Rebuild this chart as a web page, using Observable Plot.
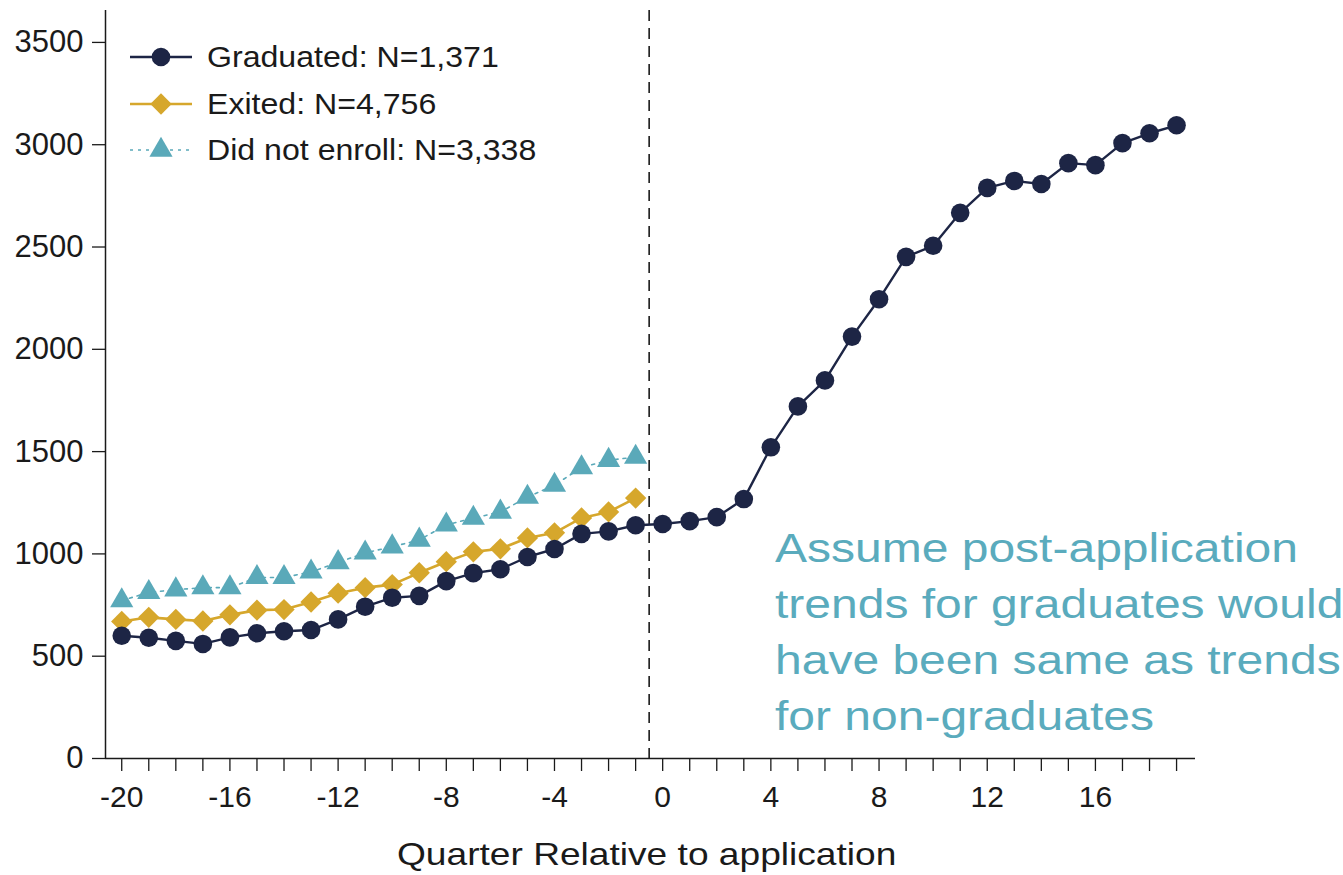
<!DOCTYPE html>
<html>
<head>
<meta charset="utf-8">
<script src="https://cdn.jsdelivr.net/npm/d3@7"></script>
<script src="https://cdn.jsdelivr.net/npm/@observablehq/plot@0.6"></script>
<style>
  html, body { margin: 0; padding: 0; background: #fff; }
  #wrap { position: relative; width: 1343px; height: 875px; font-family: "Liberation Sans", Arial, Helvetica, sans-serif; }
  #legend { position: absolute; left: 128px; top: 34px; font-size: 30px; color: #1a1a1a; }
  #legend .row { display: flex; align-items: center; height: 46.5px; }
  #legend .row span { display: inline-block; transform: scaleX(1.07); transform-origin: left center; }
  #legend svg { width: 66px; height: 30px; margin-right: 13px; overflow: visible; }
  #xtitle { position: absolute; left: 397px; top: 836px; font-size: 32px; color: #1a1a1a; white-space: nowrap; transform: scaleX(1.16); transform-origin: left top; }
  #note { position: absolute; left: 775px; top: 520px; font-size: 40px; line-height: 56px; color: #5aabbd; white-space: nowrap; transform: scaleX(1.2); transform-origin: left top; }
</style>
</head>
<body>
<div id="wrap"></div>
<script>
// ---- data ----
const quarters = [-20,-19,-18,-17,-16,-15,-14,-13,-12,-11,-10,-9,-8,-7,-6,-5,-4,-3,-2,-1,
                  0,1,2,3,4,5,6,7,8,9,10,11,12,13,14,15,16,17,18,19];
const preQuarters = [-20,-19,-18,-17,-16,-15,-14,-13,-12,-11,-10,-9,-8,-7,-6,-5,-4,-3,-2,-1];
const graduated = [600,590,575,560,592,612,622,628,680,742,786,795,867,906,925,985,1024,1098,1110,1140,
                   1146,1160,1180,1268,1521,1721,1848,2062,2245,2452,2506,2667,2789,2823,2808,2910,2900,3008,3056,3095];
const exited = [670,690,680,672,702,725,728,765,808,835,850,908,962,1010,1025,1078,1103,1176,1205,1273];
const didNotEnroll = [772,812,825,835,835,885,885,912,958,1005,1035,1068,1142,1175,1205,1278,1336,1422,1458,1473];
const seriesLabels = ["Graduated: N=1,371", "Exited: N=4,756", "Did not enroll: N=3,338"];
const yTicks = [0,500,1000,1500,2000,2500,3000,3500];
const xLabelTicks = [-20,-16,-12,-8,-4,0,4,8,12,16];
const applicationCut = -0.5;
const xTitle = "Quarter Relative to application";
const noteLines = ["Assume post-application", "trends for graduates would", "have been same as trends", "for non-graduates"];

// ---- styling ----
const NAVY = "#1d2545", GOLD = "#d6a72c", TEAL = "#5aa9b9";
const xDomain = [-20.6, 19.7];
const yDomain = [0, 3656];

const gradData = quarters.map((q, i) => ({q, v: graduated[i]}));
const exitData = preQuarters.map((q, i) => ({q, v: exited[i]}));
const dneData = preQuarters.map((q, i) => ({q, v: didNotEnroll[i]}));

const chart = Plot.plot({
  width: 1343,
  height: 875,
  marginLeft: 105,
  marginRight: 148,
  marginTop: 10,
  marginBottom: 117,
  style: {fontFamily: "'Liberation Sans', Arial, Helvetica, sans-serif", background: "transparent", color: "#1a1a1a"},
  x: {domain: xDomain},
  y: {domain: yDomain},
  marks: [
    Plot.axisY({ticks: yTicks, tickSize: 13, tickPadding: 9, fontSize: 31, tickFormat: d => String(d), label: null, stroke: "#1a1a1a", strokeWidth: 1.3}),
    Plot.axisX({ticks: quarters, tickSize: 13, tickPadding: 14, fontSize: 30,
                tickFormat: d => xLabelTicks.includes(d) ? String(d) : "", label: null, stroke: "#1a1a1a", strokeWidth: 1.3}),
    Plot.ruleX([xDomain[0]], {stroke: "#1a1a1a", strokeWidth: 1.5}),
    Plot.ruleY([0], {stroke: "#1a1a1a", strokeWidth: 1.5}),
    Plot.ruleX([applicationCut], {stroke: "#1a1a1a", strokeWidth: 1.6, strokeDasharray: "11,7"}),
    // did not enroll
    Plot.line(dneData, {x: "q", y: "v", stroke: TEAL, strokeWidth: 1.6, strokeDasharray: "3,5"}),
    Plot.dot(dneData, {x: "q", y: "v", symbol: "triangle", r: 8.6, fill: TEAL, stroke: "none"}),
    // exited
    Plot.line(exitData, {x: "q", y: "v", stroke: GOLD, strokeWidth: 2.6}),
    Plot.dot(exitData, {x: "q", y: "v", symbol: "diamond2", r: 9.6, fill: GOLD, stroke: "none"}),
    // graduated
    Plot.line(gradData, {x: "q", y: "v", stroke: NAVY, strokeWidth: 2.4}),
    Plot.dot(gradData, {x: "q", y: "v", r: 9.3, fill: NAVY, stroke: "none"})
  ]
});

const wrap = document.getElementById("wrap");
wrap.appendChild(chart);

// legend
const legend = document.createElement("div");
legend.id = "legend";
const legendSpec = [
  {color: NAVY, sym: d3.symbolCircle, size: Math.PI * 9.3 * 9.3, dash: null, w: 2.4},
  {color: GOLD, sym: d3.symbolDiamond2, size: Math.PI * 9.6 * 9.6, dash: null, w: 2.6},
  {color: TEAL, sym: d3.symbolTriangle, size: Math.PI * 8.6 * 8.6, dash: "3,5", w: 1.6}
];
legendSpec.forEach((s, i) => {
  const row = document.createElement("div");
  row.className = "row";
  const svg = d3.create("svg").attr("viewBox", "0 0 66 30");
  svg.append("line").attr("x1", 2).attr("x2", 64).attr("y1", 15).attr("y2", 15)
    .attr("stroke", s.color).attr("stroke-width", s.w).attr("stroke-dasharray", s.dash);
  svg.append("path").attr("transform", "translate(33,15)")
    .attr("d", d3.symbol(s.sym, s.size)()).attr("fill", s.color);
  row.appendChild(svg.node());
  const span = document.createElement("span");
  span.textContent = seriesLabels[i];
  row.appendChild(span);
  legend.appendChild(row);
});
wrap.appendChild(legend);

const xt = document.createElement("div");
xt.id = "xtitle";
xt.textContent = xTitle;
wrap.appendChild(xt);

const note = document.createElement("div");
note.id = "note";
note.innerHTML = noteLines.map(l => l.replace(/&/g, "&amp;")).join("<br>");
wrap.appendChild(note);
</script>
</body>
</html>
